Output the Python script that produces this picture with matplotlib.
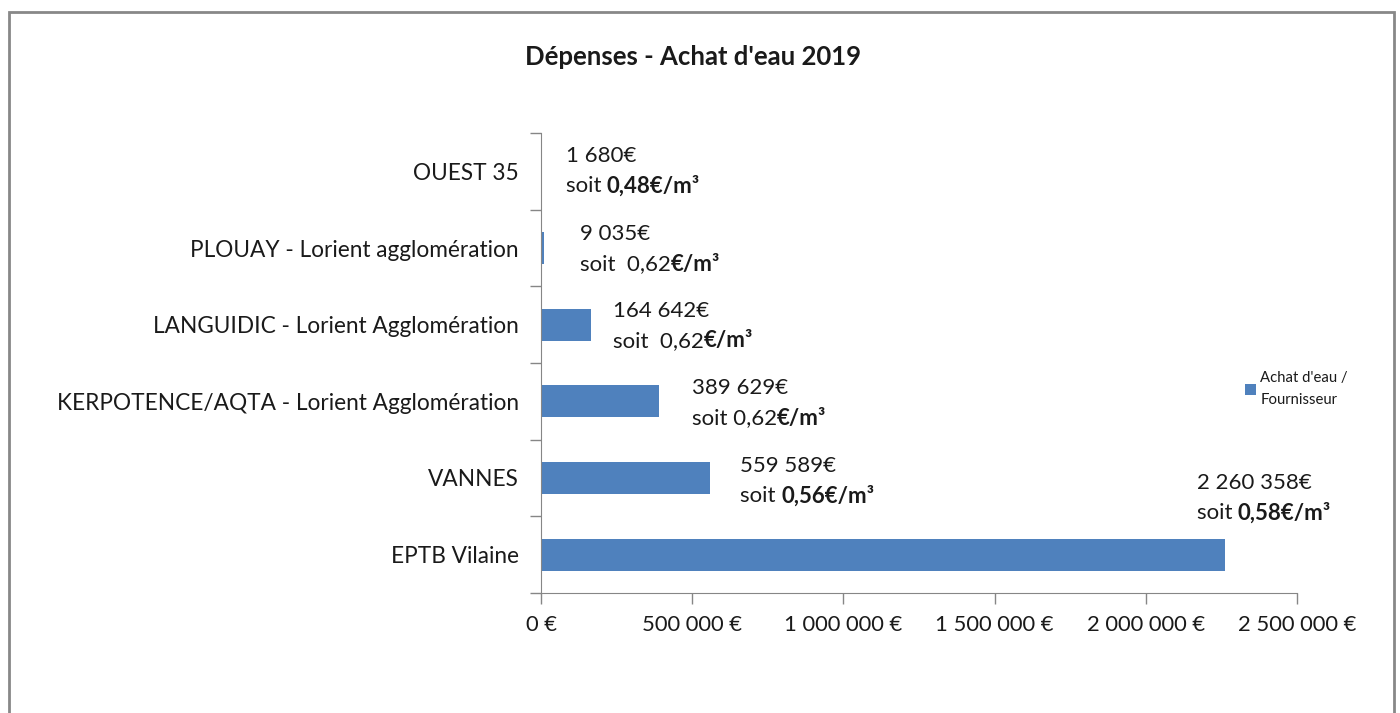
import matplotlib.pyplot as plt
from matplotlib.patches import Rectangle
from matplotlib.ticker import FuncFormatter, FixedLocator

plt.rcParams['font.family'] = ['Lato', 'DejaVu Sans']

# data, bottom to top
categories = ["EPTB Vilaine", "VANNES", "KERPOTENCE/AQTA - Lorient Agglomération",
              "LANGUIDIC - Lorient Agglomération", "PLOUAY - Lorient agglomération", "OUEST 35"]
values = [2260358, 559589, 389629, 164642, 9035, 1680]
amount_labels = ["2 260 358€", "559 589€", "389 629€", "164 642€", "9 035€", "1 680€"]
rate_plain = ["soit ", "soit ", "soit 0,62", "soit  0,62", "soit  0,62", "soit "]
rate_bold = ["0,58€/m³", "0,56€/m³", "€/m³", "€/m³", "€/m³", "0,48€/m³"]
x_ticks = [0, 500000, 1000000, 1500000, 2000000, 2500000]

# label offsets in pixels (from bar end)
label_dx = [-28, 30, 33, 22, 36, 24]
label_dy = [57, -3, -2, -1, -1, 0]

blue = "#4f81bd"
grey = "#868686"
txt = '#1a1a1a'

fig = plt.figure(figsize=(14, 7.13), dpi=100)
ax = fig.add_axes([541/1400, 1-593/713, 756/1400, 460/713])

ypos = list(range(len(categories)))
ax.barh(ypos, values, height=0.42, color=blue, label="Achat d'eau /\nFournisseur")

ax.set_xlim(0, 2500000)
ax.set_ylim(-0.5, len(categories) - 0.5)
ax.set_xticks(x_ticks)
ax.xaxis.set_major_formatter(FuncFormatter(lambda v, p: "{:,.0f} €".format(v).replace(",", " ")))
ax.set_yticks(ypos)
ax.set_yticklabels(categories)
ax.yaxis.set_minor_locator(FixedLocator([i - 0.5 for i in range(len(categories) + 1)]))
ax.tick_params(axis='y', which='major', length=0, pad=16, labelsize=16.3, colors=txt)
ax.tick_params(axis='y', which='minor', length=8, color=grey, width=1)
ax.tick_params(axis='x', length=8, color=grey, width=1, pad=8, labelsize=15.8, labelcolor=txt)
for s in ['top', 'right']:
    ax.spines[s].set_visible(False)
for s in ['left', 'bottom']:
    ax.spines[s].set_color(grey)

for i, v in enumerate(values):
    t1 = ax.annotate(amount_labels[i], xy=(v, i), xytext=(label_dx[i], label_dy[i] + 15),
                     textcoords='offset pixels', ha='left', va='center', fontsize=16, color=txt)
    t2 = ax.annotate(rate_plain[i], xy=(v, i), xytext=(label_dx[i], label_dy[i] - 15),
                     textcoords='offset pixels', ha='left', va='center', fontsize=16, color=txt)
    ax.annotate(rate_bold[i], xy=(1, 0.5), xycoords=t2, ha='left', va='center',
                fontsize=16, fontweight='bold', color=txt)

fig.text(693/1400, 1-57/713, "Dépenses - Achat d'eau 2019", ha='center', va='center',
         fontsize=18.5, fontweight='bold', color=txt)

leg = ax.legend(loc='upper left', bbox_to_anchor=(1232/1400, 1-358/713), bbox_transform=fig.transFigure,
                frameon=False, fontsize=10.7, handlelength=0.7, handleheight=0.7, handletextpad=0.3)
for t in leg.get_texts():
    t.set_linespacing(1.7)
    t.set_color(txt)

fig.patches.append(Rectangle((9/1400, -0.05), 1385/1400, 1.05 - 12/713, transform=fig.transFigure,
                             fill=False, edgecolor='#888888', linewidth=2))

fig.savefig("out.png", dpi=100)
